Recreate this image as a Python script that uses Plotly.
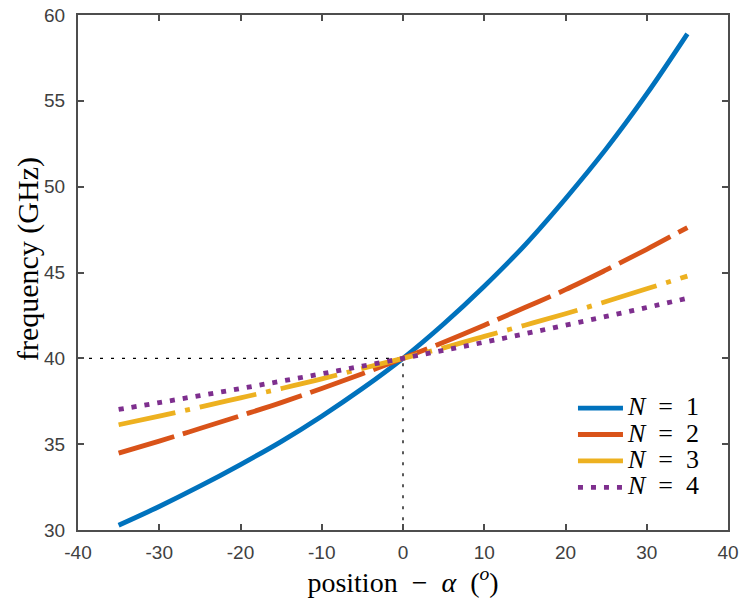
import plotly.graph_objects as go

alpha = [-35, -30, -25, -20, -15, -10, -5, 0, 5, 10, 15, 20, 25, 30, 35]
f_n1 = [30.28, 31.37, 32.55, 33.81, 35.15, 36.63, 38.24, 40.0, 42.0, 44.2, 46.6, 49.3, 52.2, 55.4, 58.9]
f_n2 = [34.48, 35.18, 35.91, 36.66, 37.42, 38.24, 39.10, 40.0, 40.94, 41.93, 42.96, 44.00, 45.15, 46.35, 47.62]
f_n3 = [36.13, 36.63, 37.16, 37.70, 38.24, 38.80, 39.41, 40.0, 40.61, 41.28, 41.93, 42.60, 43.31, 44.05, 44.79]
f_n4 = [37.02, 37.42, 37.83, 38.24, 38.67, 39.10, 39.55, 40.0, 40.47, 40.94, 41.43, 41.93, 42.44, 42.96, 43.50]
names = ['<span style="font-size:26px"><i>N</i>&nbsp; = &nbsp;%d</span>' % n for n in (1, 2, 3, 4)]
colors = ["#0072BD", "#D95319", "#EDB120", "#7E2F8E"]
dashes = ["solid", "58px,9px", "58px,10px,5px,10px", "5px,8px"]

x_ticks = [-40, -30, -20, -10, 0, 10, 20, 30, 40]
x_ticktext = ["-40", "-30", "-20", "-10", "0", "10", "20", "30", "40"]
y_ticks = [30, 35, 40, 45, 50, 55, 60]

guide_x = [-40, 0, 0]
guide_y = [40, 40, 30]

fig = go.Figure()
fig.add_trace(go.Scatter(x=guide_x, y=guide_y, mode="lines", showlegend=False,
                         line=dict(color="black", width=1.3, dash="3px,8px"),
                         hoverinfo="skip"))
for ys, nm, c, d in zip([f_n1, f_n2, f_n3, f_n4], names, colors, dashes):
    fig.add_trace(go.Scatter(x=alpha, y=ys, mode="lines", name=nm,
                             line=dict(color=c, width=4.8, dash=d, shape="spline")))

axis_common = dict(showline=True, linecolor="#4d4d4d", linewidth=2, mirror="ticks",
                   ticks="inside", ticklen=6, tickwidth=2, tickcolor="#4d4d4d",
                   showgrid=False, zeroline=False, automargin=False,
                   tickfont=dict(family="Liberation Sans, Arial", size=19, color="#404040"))

fig.update_layout(
    width=747, height=601,
    margin=dict(l=78, r=19, t=15, b=71),
    paper_bgcolor="white", plot_bgcolor="white",
    xaxis=dict(range=[-40, 40], tickvals=x_ticks, ticktext=x_ticktext, ticklabelstandoff=4,
               title=dict(text="position&nbsp; − &nbsp;<i>α</i> &nbsp;(<sup><i>o</i></sup>)",
                          font=dict(family="Liberation Serif, Times New Roman", size=28, color="black"),
                          standoff=2),
               **axis_common),
    yaxis=dict(range=[30, 60], tickvals=y_ticks, ticklabelstandoff=7,
               **axis_common),
    legend=dict(x=0.7615, y=0.272, xanchor="left", yanchor="top",
                bgcolor="rgba(0,0,0,0)", borderwidth=0, tracegroupgap=0, itemwidth=45,
                font=dict(family="Liberation Serif, Times New Roman", size=18, color="black")),
    annotations=[dict(text="frequency (GHz)", xref="paper", yref="paper",
                      x=-0.077, y=0.526, xanchor="center", yanchor="middle",
                      textangle=-90, showarrow=False,
                      font=dict(family="Liberation Serif, Times New Roman", size=30, color="black"))],
)

fig.write_html("out.html", config={"displayModeBar": False},
               post_script="document.body.style.margin='0';document.body.style.overflow='hidden';")
